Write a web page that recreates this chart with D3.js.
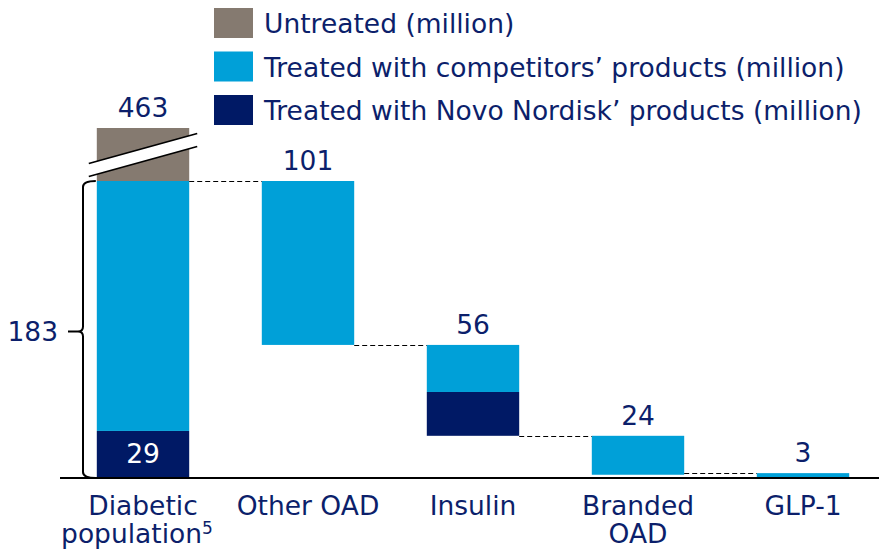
<!DOCTYPE html>
<html lang="en">
<head>
    <meta charset="UTF-8">
    <title>Diabetic population waterfall</title>
    <script src="https://cdn.jsdelivr.net/npm/d3@7"></script>
    <style>
        body { margin: 0; background: #fff; }
        text { font-family: "DejaVu Sans", Verdana, sans-serif; fill: #0c1f6b; }
    </style>
</head>
<body>
</body>
<script>
    var width = 879
    var height = 551

    // data
    var categories = ['Diabetic population', 'Other OAD', 'Insulin', 'Branded OAD', 'GLP-1']
    var novo = [29, 0, 27, 0, 0]
    var competitors = [154, 101, 29, 24, 3]
    var untreated = [280, 0, 0, 0, 0]
    var totals = [463, 101, 56, 24, 3]
    var treatedTotal = 183
    var seriesNames = ['Untreated (million)', 'Treated with competitors\u2019 products (million)', 'Treated with Novo Nordisk\u2019 products (million)']
    var colors = ['#857a70', '#00a0d8', '#001965']

    var fs = '26.5px'

    var svg = d3.select('body')
        .append('svg')
        .attr('width', width)
        .attr('height', height);

    var x = d3.scaleBand()
        .domain(categories)
        .range([60.5, 885.5])
        .paddingInner(0.44)
        .paddingOuter(0.22);

    // broken axis: 0..183 to scale, 183..463 squeezed above the break
    var y = d3.scaleLinear()
        .domain([0, treatedTotal, 463])
        .range([478, 181, 128]);

    // running base of each waterfall step
    var bases = [];
    var running = treatedTotal;
    categories.forEach(function (c, i) {
        if (i === 0) {
            bases.push(0);
        } else {
            running = Math.max(0, running - totals[i]);
            bases.push(running);
        }
    });

    // segments, bottom up: novo, competitors, untreated
    var segs = [];
    categories.forEach(function (c, i) {
        var b = bases[i];
        [[novo[i], 2], [competitors[i], 1], [untreated[i], 0]].forEach(function (p) {
            if (p[0] > 0) {
                segs.push({cat: c, y0: b, y1: b + p[0], color: colors[p[1]]});
                b += p[0];
            }
        });
    });

    svg.selectAll('rect.seg')
        .data(segs)
        .enter()
        .append('rect')
        .attr('class', 'seg')
        .attr('x', d => x(d.cat))
        .attr('width', x.bandwidth())
        .attr('y', d => y(d.y1))
        .attr('height', d => y(d.y0) - y(d.y1))
        .attr('fill', d => d.color);

    // dashed connectors
    for (let i = 0; i < categories.length - 1; i++) {
        let v = i === 0 ? treatedTotal : bases[i];
        if (i === categories.length - 2) v = bases[i + 1] + totals[i + 1];
        svg.append('line')
            .attr('x1', x(categories[i]) + x.bandwidth())
            .attr('x2', x(categories[i + 1]))
            .attr('y1', Math.round(y(v)) + 0.5)
            .attr('y2', Math.round(y(v)) + 0.5)
            .attr('stroke', '#000')
            .attr('stroke-width', 1)
            .attr('stroke-dasharray', '5,3');
    }

    // baseline
    svg.append('line')
        .attr('x1', 60).attr('x2', width)
        .attr('y1', y(0)).attr('y2', y(0))
        .attr('stroke', '#000')
        .attr('stroke-width', 2);

    // break marks on the untreated bar
    var bx0 = x(categories[0]) - 8, bx1 = x(categories[0]) + x.bandwidth() + 8;
    var bm = (y(treatedTotal) + y(463)) / 2;
    svg.append('path')
        .attr('d', 'M' + bx0 + ',' + (bm + 9) + 'L' + bx1 + ',' + (bm - 21) +
            'L' + bx1 + ',' + (bm - 8) + 'L' + bx0 + ',' + (bm + 22) + 'Z')
        .attr('fill', '#fff');
    [0, 13].forEach(function (o) {
        svg.append('line')
            .attr('x1', bx0).attr('y1', bm + 9 + o)
            .attr('x2', bx1).attr('y2', bm - 21 + o)
            .attr('stroke', '#000')
            .attr('stroke-width', 1.8);
    });

    // brace for the treated total
    var braceTop = y(treatedTotal), braceBot = y(0), braceMid = (braceTop + braceBot) / 2 + 2;
    var bxr = x(categories[0]) - 1, bxl = 83;
    svg.append('path')
        .attr('d', 'M' + bxr + ',' + braceTop + 'Q' + bxl + ',' + braceTop + ' ' + bxl + ',' + (braceTop + 6) +
            'L' + bxl + ',' + (braceMid - 5) + 'Q' + bxl + ',' + braceMid + ' ' + (bxl - 5) + ',' + braceMid +
            'Q' + bxl + ',' + braceMid + ' ' + bxl + ',' + (braceMid + 5) +
            'L' + bxl + ',' + (braceBot - 6) + 'Q' + bxl + ',' + braceBot + ' ' + bxr + ',' + braceBot)
        .attr('fill', 'none')
        .attr('stroke', '#000')
        .attr('stroke-width', 2);
    svg.append('line')
        .attr('x1', 68).attr('x2', bxl - 5)
        .attr('y1', braceMid).attr('y2', braceMid)
        .attr('stroke', '#000')
        .attr('stroke-width', 2);
    svg.append('text')
        .attr('x', 58)
        .attr('y', braceMid + 9)
        .attr('text-anchor', 'end')
        .style('font-size', fs)
        .text(treatedTotal);

    // value labels
    svg.selectAll('text.val')
        .data(categories)
        .enter()
        .append('text')
        .attr('class', 'val')
        .attr('x', d => x(d) + x.bandwidth() / 2)
        .attr('y', (d, i) => y(i === 0 ? 463 : bases[i] + totals[i]) - 11)
        .attr('text-anchor', 'middle')
        .style('font-size', fs)
        .text((d, i) => totals[i]);

    svg.append('text')
        .attr('x', x(categories[0]) + x.bandwidth() / 2)
        .attr('y', (y(0) + y(novo[0])) / 2 + 9)
        .attr('text-anchor', 'middle')
        .style('font-size', fs)
        .style('fill', '#fff')
        .text(novo[0]);

    // category labels
    var catLines = [['Diabetic', 'population'], ['Other OAD'], ['Insulin'], ['Branded', 'OAD'], ['GLP-1']];
    categories.forEach(function (c, i) {
        var t = svg.append('text')
            .attr('x', x(c) + x.bandwidth() / 2)
            .attr('y', 515)
            .attr('text-anchor', 'middle')
            .style('font-size', fs);
        catLines[i].forEach(function (l, j) {
            var ts = t.append('tspan')
                .attr('x', x(c) + x.bandwidth() / 2 + (i === 0 && j === 1 ? -6 : 0))
                .attr('dy', j === 0 ? 0 : 28)
                .text(l);
            if (i === 0 && j === 1) {
                ts.append('tspan')
                    .attr('dy', -9)
                    .style('font-size', '17px')
                    .text('5');
            }
        });
    });

    // legend
    var legend = svg.selectAll('g.legend')
        .data(seriesNames)
        .enter()
        .append('g')
        .attr('class', 'legend')
        .attr('transform', (d, i) => 'translate(214,' + (8 + i * 43.5) + ')');
    legend.append('rect')
        .attr('width', 39)
        .attr('height', 30)
        .attr('fill', (d, i) => colors[i]);
    legend.append('text')
        .attr('x', 50)
        .attr('y', 25)
        .style('font-size', fs)
        .text(d => d);
</script>
</html>
